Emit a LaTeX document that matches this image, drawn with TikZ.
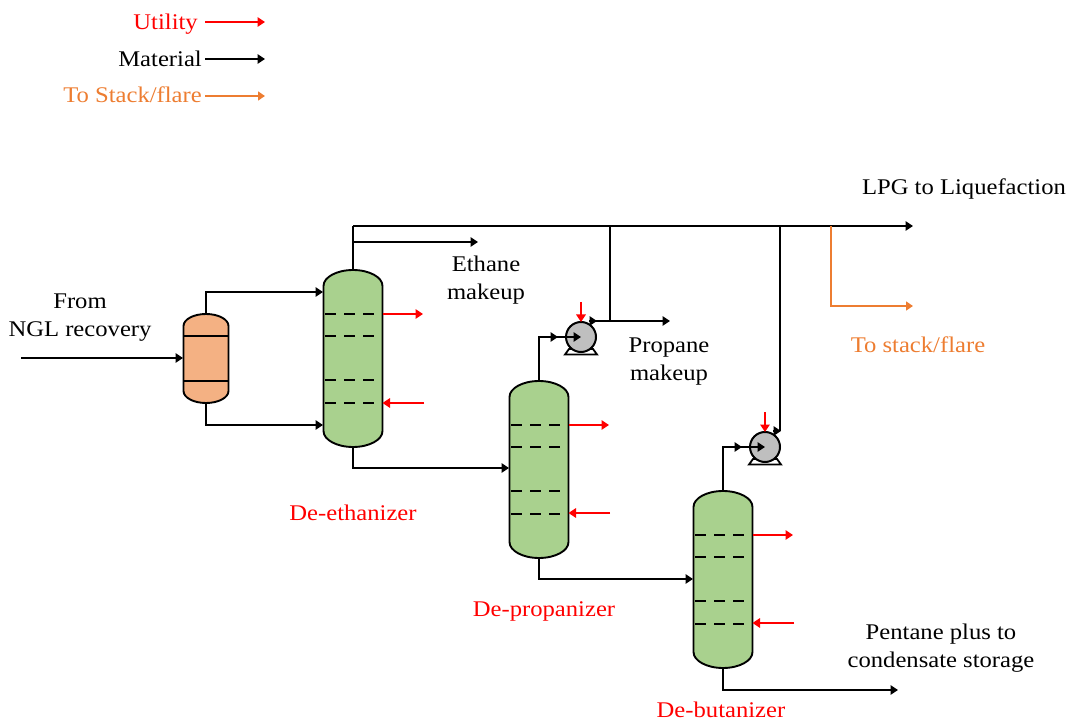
\documentclass[tikz,border=0pt]{standalone}
\usepackage{fontspec}
\setmainfont[FakeStretch=1.1]{Liberation Serif}
\usetikzlibrary{arrows.meta,calc}
\definecolor{vgreen}{HTML}{A9D18E}
\definecolor{vorange}{HTML}{F4B183}
\definecolor{torange}{HTML}{ED7D31}
\definecolor{pgray}{HTML}{BFBFBF}
\tikzset{
  flow/.style={line width=1.7pt,-{Triangle[length=7.5pt,width=9.5pt]}},
  mat/.style={flow,black},
  util/.style={flow,red},
  flare/.style={line width=1.4pt,torange,-{Triangle[length=7pt,width=9pt]}},
  pipe/.style={line width=1.7pt},
  vbox/.style={rectangle,inner sep=0pt,outer sep=0pt,draw=none},
  shell/.style={line width=1.9pt,draw=black},
  tray/.style={line width=1.5pt,dash pattern=on 11pt off 8pt},
  plate/.style={line width=1.6pt},
  lab/.style={align=center,inner sep=0pt,font=\fontsize{22.4}{28}\selectfont},
  redlab/.style={lab,text=red},
  orlab/.style={lab,text=torange},
  pumpc/.style={circle,draw=black,line width=2pt,fill=pgray,minimum size=30pt,inner sep=0pt,outer sep=0pt}
}
% name, cx, top, bottom, half width, cap height, fill
\newcommand{\vesselshape}[7]{%
  \node[vbox,minimum width={2*#5 pt},minimum height={(#4-#3)*1pt}] (#1) at (#2,{(#3+#4)/2}) {};
  \draw[shell,fill=#7] ({#2-#5},{#3+#6}) arc[start angle=180,end angle=0,x radius=#5pt,y radius=#6pt]
    -- ({#2+#5},{#4-#6}) arc[start angle=0,end angle=-180,x radius=#5pt,y radius=#6pt] -- cycle;
}
% cx, top of the column
\newcommand{\traysat}[2]{%
  \foreach \dy in {44,66,110,133}{\draw[tray] ({#1-28},{#2+\dy}) -- ({#1+23},{#2+\dy});}
}
% name, cx, cy
\newcommand{\pumpshape}[3]{%
  \draw[line width=1.8pt,fill=white] ({#2-12},{#3+12}) -- ({#2-16},{#3+17.5}) -- ({#2+16},{#3+17.5}) -- ({#2+12},{#3+12}) -- cycle;
  \node[pumpc] (#1) at (#2,#3) {};
}
\begin{document}
\begin{tikzpicture}[x=1pt,y=-1pt]
\useasboundingbox (0,0) rectangle (1072,722);

% legend
\node[redlab,anchor=east] (lu) at (198,24) {Utility};
\node[lab,anchor=east] (lm) at (202,59) {Material};
\node[orlab,anchor=east] (ls) at (202,95) {To Stack/flare};
\coordinate (lue) at (265,22);
\coordinate (lme) at (265,59);
\coordinate (lse) at (265,96);
\coordinate (lus) at (205,22);
\coordinate (lms) at (205,59);
\coordinate (lss) at (205,96);
\draw[util] (lus) -- (lue);
\draw[mat] (lms) -- (lme);
\draw[flare] (lss) -- (lse);

% vessels
\vesselshape{drum}{206}{314}{403}{22.5}{12}{vorange}
\draw[plate] (183.5,336) -- (228.5,336);
\draw[plate] (183.5,381) -- (228.5,381);
\vesselshape{cola}{353}{270}{447}{29.5}{16}{vgreen}
\traysat{353}{270}
\vesselshape{colb}{539}{381}{558}{29.5}{16}{vgreen}
\traysat{539}{381}
\vesselshape{colc}{723}{491}{668}{29.5}{16}{vgreen}
\traysat{723}{491}

% pumps
\pumpshape{pa}{581}{337}
\pumpshape{pb}{765}{447}

% junctions and free ends
\coordinate (inlet) at (21,358);
\coordinate (drumin) at (183,358);
\coordinate (atop) at (323,292);
\coordinate (abot) at (323,425);
\coordinate (ainb) at (509,468);
\coordinate (bout) at (693,579);
\coordinate (cout) at (898,690);
\coordinate (head) at (353,226);
\coordinate (lpg) at (913,226);
\coordinate (eth0) at (353,242);
\coordinate (eth1) at (478,242);
\coordinate (pro0) at (610,226);
\coordinate (pro1) at (610,321);
\coordinate (pro2) at (670,321);
\coordinate (pao) at (589,321);
\coordinate (paot) at (597,321);
\coordinate (but0) at (780,226);
\coordinate (but1) at (780,431);
\coordinate (pbo) at (773,431);
\coordinate (pbot) at (781,431);
\coordinate (fl0) at (831,226);
\coordinate (fl1) at (831,306);
\coordinate (fl2) at (913,306);

% material
\draw[mat] (inlet) -- (drumin);
\draw[mat] (drum.north) |- (atop);
\draw[mat] (drum.south) |- (abot);
\draw[pipe] (cola.north) -- (head);
\draw[mat] (head) -- (lpg);
\draw[mat] (eth0) -- (eth1);
\draw[mat] (cola.south) |- (ainb);
\draw[mat] (colb.south) |- (bout);
\draw[mat] (colc.south) |- (cout);
\draw[mat] (colb.north) |- (pa.center);
\draw[mat] (colb.north) |- ($(pa.west)+(-8,0)$);
\draw[mat] (colc.north) |- (pb.center);
\draw[mat] (colc.north) |- ($(pb.west)+(-8,0)$);
\draw[pipe] (pro0) -- (pro1);
\draw[mat] (pao) -- (pro2);
\draw[mat] (pao) -- (paot);
\draw[pipe] (but0) -- (but1);
\draw[mat] (pbo) -- (pbot);

% flare
\draw[flare] (fl0) -- (fl1) -- (fl2);

% utilities
\coordinate (ra) at (423,314);
\coordinate (rb) at (424,403);
\coordinate (rc) at (609,425);
\coordinate (rd) at (610,513);
\coordinate (re) at (793,535);
\coordinate (rf) at (794,623);
\draw[util] (cola.east |- ra) -- (ra);
\draw[util] (rb) -- (cola.east |- rb);
\draw[util] (colb.east |- rc) -- (rc);
\draw[util] (rd) -- (colb.east |- rd);
\draw[util] (colc.east |- re) -- (re);
\draw[util] (rf) -- (colc.east |- rf);
\coordinate (pau) at (581,302);
\coordinate (pbu) at (765,412);
\draw[util] (pau) -- (pa.north);
\draw[util] (pbu) -- (pb.north);

% labels
\node[lab] (t1) at (80,318) {From\\NGL recovery};
\node[lab] (t2) at (964,189) {LPG to Liquefaction};
\node[lab] (t3) at (486,280) {Ethane\\makeup};
\node[lab] (t4) at (669,362) {Propane\\makeup};
\node[lab] (t5) at (941,648) {Pentane plus to\\condensate storage};
\node[orlab] (t6) at (918,345) {To stack/flare};
\node[redlab] (t7) at (353,513) {De-ethanizer};
\node[redlab] (t8) at (544,611) {De-propanizer};
\node[redlab] (t9) at (721,710) {De-butanizer};
\end{tikzpicture}
\end{document}
